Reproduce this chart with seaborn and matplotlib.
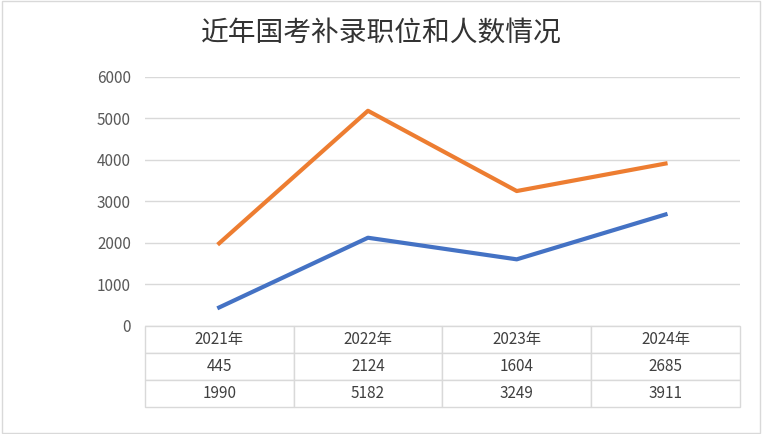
import matplotlib
matplotlib.use("Agg")
import matplotlib.pyplot as plt
import seaborn as sns
import pandas as pd

plt.rcParams["font.family"] = ["Noto Sans CJK SC", "DejaVu Sans"]

years = ["2021年", "2022年", "2023年", "2024年"]
posts = [445, 2124, 1604, 2685]
people = [1990, 5182, 3249, 3911]

df = pd.DataFrame({
    "x": list(range(4)) * 2,
    "value": posts + people,
    "series": ["职位"] * 4 + ["人数"] * 4,
})

fig = plt.figure(figsize=(7.62, 4.34), dpi=100)
fig.patches.append(plt.Rectangle((0.003, 0.003), 0.994, 0.994, transform=fig.transFigure,
                                 fill=False, edgecolor="#d9d9d9", lw=1))
ax = fig.add_axes([0.190, 0.249, 0.781, 0.574])
sns.lineplot(data=df, x="x", y="value", hue="series", palette=["#4472C4", "#ED7D31"],
             lw=3, ax=ax, legend=False)
ax.set_xlim(-0.5, 3.5)
ax.set_ylim(0, 6000)
ax.set_yticks(range(0, 6001, 1000))
ax.grid(axis="y", color="#d9d9d9", lw=1)
ax.set_axisbelow(True)
for s in ax.spines.values():
    s.set_visible(False)
ax.set_xticks([])
ax.set_xlabel("")
ax.set_ylabel("")
ax.tick_params(axis="y", length=0, labelsize=11, colors="#595959", pad=10)

cells = [years, [str(v) for v in posts], [str(v) for v in people]]
tbl = ax.table(cellText=cells, cellLoc="center", bbox=[0, -0.325, 1, 0.325])
tbl.auto_set_font_size(False)
tbl.set_fontsize(11)
for cell in tbl.get_celld().values():
    cell.set_edgecolor("#d9d9d9")
    cell.get_text().set_color("#404040")

fig.suptitle("近年国考补录职位和人数情况", y=0.96, fontsize=20, fontweight="medium", color="#333333")
fig.savefig("out.png", dpi=100)
